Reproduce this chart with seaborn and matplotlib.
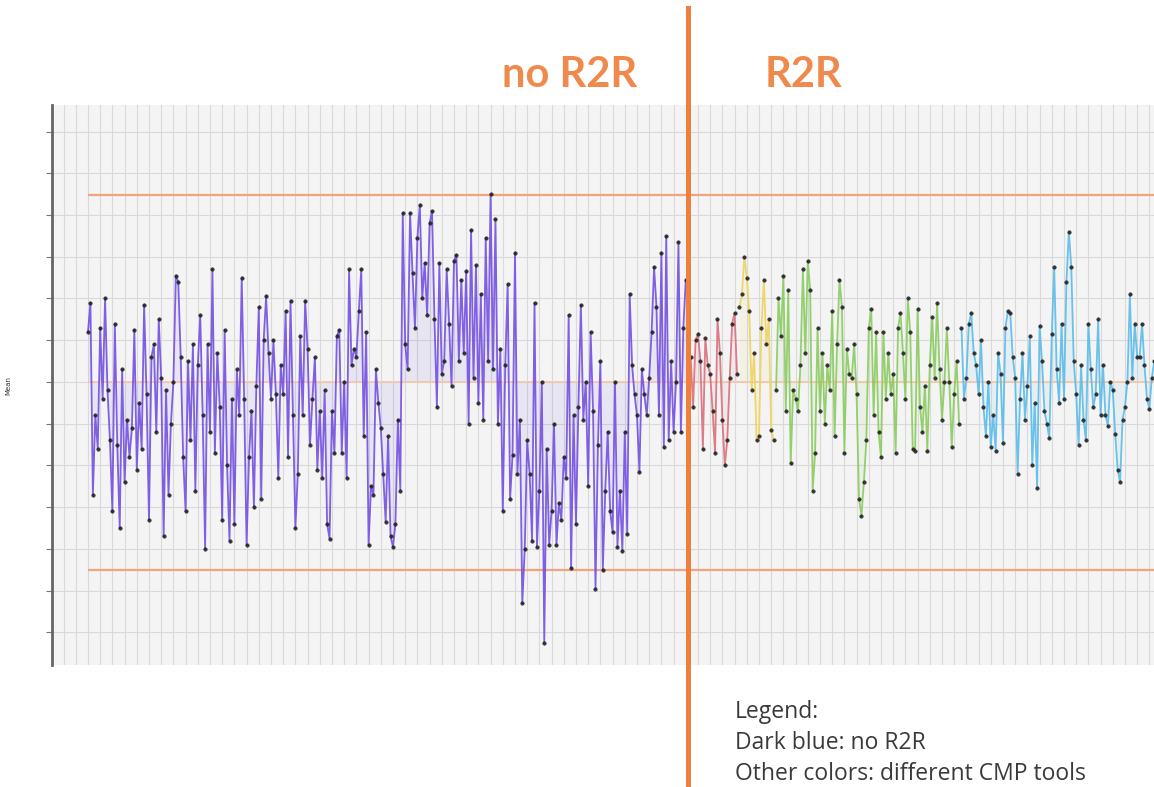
import matplotlib
matplotlib.use('Agg')
import matplotlib.pyplot as plt
import seaborn as sns
import numpy as np
import pandas as pd

# Mean values per lot (units = grid steps, centre = 0)
no_r2r = [
    1.2, 1.9, -2.7, -0.8, -1.6, 1.3, -0.4, 2.0, -0.2, -1.4,
    -3.1, 1.4, -1.5, -3.5, 0.3, -2.4, -0.9, -1.8, -1.1, 1.25,
    -2.1, -0.5, -1.6, 1.85, -0.3, -3.3, 0.6, 0.9, -1.2, 1.5,
    0.1, -3.7, -0.2, -2.7, -1.0, 0.0, 2.55, 2.4, 0.6, -1.8,
    -3.1, 0.5, -1.4, 0.9, -2.6, 0.4, 1.6, -0.8, -4.0, 0.9,
    -1.2, 2.7, -1.7, 0.7, -0.6, -3.3, 1.25, -2.0, -3.8, -0.4,
    -3.4, 0.3, -0.8, 2.5, -0.4, -3.9, -1.8, -0.7, -3.0, -0.1,
    1.8, -2.8, 1.0, 2.05, 0.7, -0.4, 1.0, -0.3, -2.3, 0.4,
    -0.3, 1.7, -1.8, 1.95, -0.8, -3.5, -2.2, 1.1, -0.8, 1.95,
    0.8, -1.5, -0.4, 0.6, -2.1, -0.7, -2.3, -0.2, -3.4, -3.75,
    -0.7, -1.7, 1.1, 1.25, -1.7, 0.0, -2.3, 2.7, 0.4, 0.8,
    0.6, 1.7, 2.7, -1.3, 1.2, -3.9, -2.5, -2.7, 0.3, -0.5,
    -1.1, -2.2, -3.35, -1.3, -3.7, -3.95, -3.4, -0.9, -2.6, 4.05,
    0.9, 0.3, 4.05, 2.6, 1.3, 3.45, 4.25, 2.0, 2.85, 1.6,
    3.8, 4.1, 1.5, -0.6, 2.85, 0.2, 0.5, 2.7, 1.4, -0.1,
    2.9, 3.05, 0.5, 2.45, 0.7, 2.65, -1.0, 3.65, 0.1, 2.8,
    -0.5, 2.1, -0.9, 3.45, 0.5, 4.5, 0.3, 3.9, -1.0, 0.8,
    -3.1, 0.4, 2.35, -2.8, -1.75, 3.1, -2.2, -0.9, -5.3, -4.0,
    -1.4, -2.2, -3.8, 1.9, -3.95, -2.6, 0.0, -6.25, -1.6, -3.9,
    -3.1, -1.0, -3.9, -2.9, -3.3, -1.8, -2.3, 1.6, -4.45, -0.8,
    -3.4, -0.6, 1.85, -0.9, 0.0, -2.5, 1.2, -0.7, -4.95, -1.5,
    0.5, -4.5, -2.6, -1.2, -3.1, -3.6, 0.0, -3.95, -2.6, -4.05,
    -1.2, -3.65, 2.1, 0.4, -0.3, -0.8, -2.15, 0.3, -0.3, -0.8,
    0.1, 1.2, 2.75, 1.8, -0.8, 3.1, -1.55, 3.5, -1.4, 0.5,
    -1.2, 0.0, 3.35, -1.2, 1.3, 2.45,
]
tool_red = [
    -1.65, 0.6, -0.6, 1.0, 1.15, 0.5, -1.6, 1.05, 0.4, 0.2,
    -0.7, -1.7, 1.5, 0.7, -0.9, -2.0, -1.4, 0.1, 1.4, 1.65, 0.2,
]
tool_yellow = [
    1.8, 2.1, 3.0, 2.5, 1.7, -0.2, 0.7, -1.4, -1.3, 1.3,
    2.45, 0.9, 1.5, -1.15, -1.4,
]
tool_green = [
    -0.2, 2.0, 1.1, 2.55, -0.7, 2.2, -1.95, -0.2, -0.4, -0.7,
    0.4, 2.7, 0.7, 2.9, 2.2, -2.6, -1.7, 1.3, -0.7, 0.7,
    -1.0, 0.4, -0.2, 1.7, -1.3, 0.9, 2.45, 1.8, -1.7, 0.8,
    0.2, 0.1, 0.9, -0.3, -2.8, -3.2, -2.4, -1.4, 1.3, 1.75,
    -0.8, 1.2, -1.2, -1.8, 1.2, -0.4, 0.7, -0.3, 0.2, -1.7,
    1.3, 1.65, 0.7, -0.4, 2.0, 1.2, -1.6, -1.65, 1.75, -0.6,
    -1.2, -0.1, -1.65, 0.4, 1.55, 0.1, 1.9, 0.3, -0.9, 0.0,
    1.3, 0.0, -1.55, -0.3, 0.5, -1.0,
]
tool_blue = [
    1.3, -0.4, 0.1, 1.4, 1.65, 0.7, 0.4, -0.3, 1.0, -0.6,
    -1.3, 0.0, -1.55, -0.8, -1.65, 0.7, 0.2, -1.45, 1.3, 1.7,
    1.65, 0.6, 0.1, -2.2, -0.4, 0.7, -0.9, -0.1, 1.1, -2.0,
    -0.5, -2.55, 1.35, 0.5, -0.7, -1.0, -1.35, 1.15, 2.75, 0.3,
    -0.5, 1.4, -0.4, 2.4, 3.6, 2.75, 0.5, -0.3, -1.5, 0.4,
    -0.9, -1.4, 1.4, 0.3, -0.6, -0.3, 1.5, -0.8, 0.4, -0.8,
    -1.05, 0.0, -0.2, -1.25, -2.1, -2.4, -0.9, -0.6, 0.0, 2.1,
    0.1, 1.4, 0.6, 0.6, 1.4, 0.4, -0.4, -0.65, 0.1, 0.5,
]

ucl, center, lcl = 4.48, 0.0, -4.5

segments = [
    ('no R2R', no_r2r, '#7450e2'),
    ('tool 1', tool_red, '#d9707c'),
    ('tool 2', tool_yellow, '#ecd460'),
    ('tool 3', tool_green, '#8ccb62'),
    ('tool 4', tool_blue, '#5cbce8'),
]

frames = []
start = 0
for name, vals, _ in segments:
    frames.append(pd.DataFrame({'sample': np.arange(start, start + len(vals)),
                                'mean': vals, 'tool': name}))
    start += len(vals)
df = pd.concat(frames, ignore_index=True)
n_total = len(df)
palette = {name: col for name, _, col in segments}

fig = plt.figure(figsize=(11.54, 7.87), dpi=100)
ax = fig.add_axes([0.04506, 0.15502, 0.9615, 0.71156])
ax.set_facecolor('#f4f4f4')

# faint shading under each tool's trace
for name, _, col in segments:
    sub = df[df['tool'] == name]
    ax.fill_between(sub['sample'], sub['mean'], center, color=col, alpha=0.09, lw=0)

sns.lineplot(data=df, x='sample', y='mean', hue='tool', palette=palette,
             estimator=None, sort=False, legend=False, ax=ax,
             linewidth=1.3, alpha=0.9, marker='o', markersize=2.6,
             markerfacecolor='#222222', markeredgecolor='#222222', markeredgewidth=0.3)

# control limits
ax.hlines([ucl, lcl], 0, n_total + 10, color='#f2a27c', lw=1.6, zorder=1)
ax.hlines(center, 0, n_total + 10, color='#f3c8aa', lw=1.3, zorder=1)

# R2R switch line, running past the plot edges
switch = len(no_r2r) - 0.1
ax.axvline(switch, ymin=-0.218, ymax=1.173, color='#ef7f3c', lw=3.6,
           clip_on=False, zorder=5)

ax.set_xlim(-14.75, 440)
ax.set_ylim(-6.78, 6.635)
ax.set_xticks(np.arange(-10, 445, 5))
ax.set_yticks(np.arange(-6, 7, 1))
ax.set_xticklabels([])
ax.set_yticklabels([])
ax.tick_params(axis='x', length=0)
ax.tick_params(axis='y', length=4, width=0.8, color='#777777')
ax.grid(True, color='#d9d9d9', lw=0.8)
ax.set_axisbelow(True)
for side in ['top', 'right', 'bottom']:
    ax.spines[side].set_visible(False)
ax.spines['left'].set_color('#666666')
ax.spines['left'].set_linewidth(2.0)
ax.set_xlabel('')
ax.set_ylabel('Mean', fontsize=5, color='#333333', labelpad=22)

fig.text(570 / 1154, 1 - 75 / 787, 'no R2R', ha='center', va='center',
         fontsize=30, fontweight='bold', color='#f08a4c', family=['Lato', 'DejaVu Sans'])
fig.text(803 / 1154, 1 - 75 / 787, 'R2R', ha='center', va='center',
         fontsize=30, fontweight='bold', color='#f08a4c', family=['Lato', 'DejaVu Sans'])

legend_lines = ['Legend:', 'Dark blue: no R2R', 'Other colors: different CMP tools']
for k, line in enumerate(legend_lines):
    fig.text(735 / 1154, 1 - (712 + 31 * k) / 787, line, ha='left', va='center',
             fontsize=16.5, color='#3a3a3a', family=['Open Sans', 'DejaVu Sans'])

fig.savefig('out.png', dpi=100)
